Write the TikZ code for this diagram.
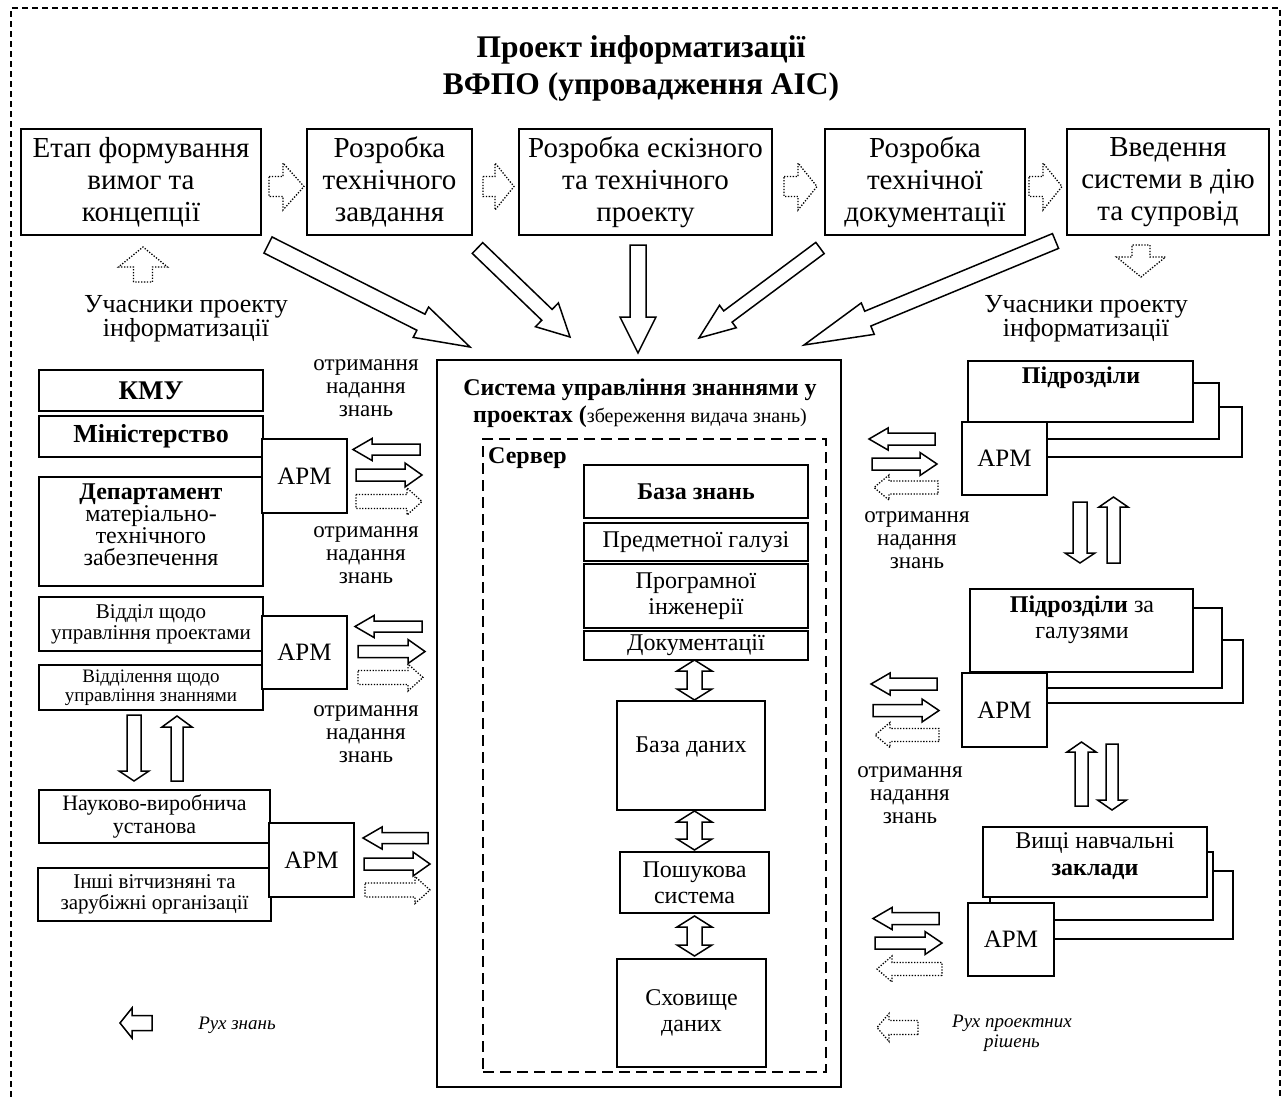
\documentclass[tikz,border=0pt]{standalone}
\usepackage{fontspec}
\setmainfont{Liberation Serif}
\usetikzlibrary{calc}

% single-headed block arrow from #2 to #3: shaft half-width #4, head half-width #5, head length #6
\newcommand{\blkarrow}[6]{%
  \coordinate (ba-h) at ($(#3)!#6!(#2)$);
  \draw[#1] ($(#2)!#4!90:(#3)$) -- ($(ba-h)!#4!90:(#3)$) -- ($(ba-h)!#5!90:(#3)$) -- (#3)
    -- ($(ba-h)!#5!-90:(#3)$) -- ($(ba-h)!#4!-90:(#3)$) -- ($(#2)!#4!-90:(#3)$) -- cycle;}
% double-headed block arrow between #2 and #3
\newcommand{\dblarrow}[6]{%
  \coordinate (da-a) at ($(#2)!#6!(#3)$);
  \coordinate (da-b) at ($(#3)!#6!(#2)$);
  \draw[#1] (#2) -- ($(da-a)!#5!90:(#3)$) -- ($(da-a)!#4!90:(#3)$) -- ($(da-b)!#4!90:(#3)$)
    -- ($(da-b)!#5!90:(#3)$) -- (#3) -- ($(da-b)!#5!-90:(#3)$) -- ($(da-b)!#4!-90:(#3)$)
    -- ($(da-a)!#4!-90:(#3)$) -- ($(da-a)!#5!-90:(#3)$) -- cycle;}

\begin{document}
\begin{tikzpicture}[x=1pt,y=-1pt,
  box/.style={draw, line width=1.4pt, fill=white, inner sep=0pt, align=center},
  heavy/.style={box, line width=2.5pt},
  midbox/.style={box, line width=2pt},
  lite/.style={box, line width=1.1pt},
  txt/.style={inner sep=0pt, align=center},
  hollow/.style={draw, line width=1.5pt, fill=white, line join=miter},
  dots/.style={draw, line width=1.3pt, dash pattern=on 1.3pt off 1.6pt, fill=white},
  border/.style={draw, line width=1.5pt, dash pattern=on 6pt off 4pt},
  srv/.style={draw, line width=1.6pt, dash pattern=on 11pt off 6pt},
  backbox/.style={draw, line width=1.4pt, fill=white},
  fbig/.style={font={\fontsize{29}{32}\selectfont}},
  fpart/.style={font={\fontsize{26}{24}\selectfont}},
  fnote/.style={font={\fontsize{23}{23}\selectfont}},
  fsrv/.style={font={\fontsize{24}{26}\selectfont}},
  flegend/.style={font={\itshape\fontsize{19}{20}\selectfont}},
]
\useasboundingbox (0,0) rectangle (1285,1097);

% outer dashed frame (open at the bottom)
\draw[border] (11,1097) -- (11,8) -- (1280,8) -- (1280,1097);

% title
\node[txt, font={\bfseries\fontsize{31.5}{37}\selectfont}] (title) at (641,68)
  {Проект інформатизації\\ВФПО (упровадження АІС)};

% project stages
\node[box, fbig, minimum width=240pt, minimum height=106pt] (s1) at (141,182) {Етап формування\\вимог та\\концепції};
\node[box, fbig, minimum width=165pt, minimum height=106pt] (s2) at (389.5,182) {Розробка\\технічного\\завдання};
\node[box, fbig, minimum width=253pt, minimum height=106pt] (s3) at (645.5,182) {Розробка ескізного\\та технічного\\проекту};
\node[box, fbig, minimum width=200pt, minimum height=106pt] (s4) at (925,182) {Розробка\\технічної\\документації};
\node[box, fbig, minimum width=202pt, minimum height=106pt] (s5) at (1168,182) {Введення\\системи в дію\\та супровід};

% dotted arrows between stages
\coordinate (q1a) at (269,186.5);  \coordinate (q1b) at (304,186.5);
\coordinate (q2a) at (483,186.5);  \coordinate (q2b) at (514,186.5);
\coordinate (q3a) at (784,186.5);  \coordinate (q3b) at (817,186.5);
\coordinate (q4a) at (1029,186.5); \coordinate (q4b) at (1062,186.5);
\blkarrow{dots}{q1a}{q1b}{10pt}{23.5pt}{21pt}
\blkarrow{dots}{q2a}{q2b}{10pt}{23.5pt}{19pt}
\blkarrow{dots}{q3a}{q3b}{10pt}{23.5pt}{19pt}
\blkarrow{dots}{q4a}{q4b}{10pt}{23.5pt}{19pt}

% participants
\coordinate (u1a) at (143,282); \coordinate (u1b) at (143,247);
\blkarrow{dots}{u1a}{u1b}{9.5pt}{24.5pt}{20pt}
\coordinate (u2a) at (1141,245); \coordinate (u2b) at (1141,277);
\blkarrow{dots}{u2a}{u2b}{9pt}{24.5pt}{20pt}
\node[txt, fpart] (partL) at (186,319) {Учасники проекту\\інформатизації};
\node[txt, fpart] (partR) at (1086,319) {Учасники проекту\\інформатизації};

% knowledge management system
\node[midbox, fill=none, minimum width=404pt, minimum height=727pt] (kms) at (639,723.5) {};
\node[txt, font={\bfseries\fontsize{24}{27}\selectfont}] (kmsT) at (640,403.5)
  {Система управління знаннями у\\проектах ({\mdseries\fontsize{20}{27}\selectfont збереження видача знань)}};
\node[srv, inner sep=0pt, minimum width=343pt, minimum height=633pt] (srvbox) at (654.5,755.5) {};
\node[txt, anchor=west, font={\bfseries\fontsize{24}{26}\selectfont}] (srvT) at (488,458) {Сервер};

\node[heavy, fsrv, minimum width=224pt, minimum height=53pt] (kb) at (696,491.5) {\bfseries База знань};
\node[heavy, fsrv, minimum width=224pt, minimum height=38pt] (kb1) at (696,542) {Предметної галузі};
\node[heavy, fsrv, minimum width=224pt, minimum height=64pt] (kb2) at (696,596) {Програмної\\інженерії};
\node[heavy, fsrv, minimum width=224pt, minimum height=29pt] (kb3) at (696,645.5) {Документації};
\node[heavy, minimum width=148pt, minimum height=109pt] (db) at (691,755.5) {};
\node[txt, fsrv] (dbT) at (691,747) {База даних};
\node[heavy, fsrv, minimum width=149pt, minimum height=61pt] (se) at (694.5,882.5) {Пошукова\\система};
\node[heavy, fsrv, minimum width=149pt, minimum height=108pt] (dw) at (691.5,1013) {Сховище\\даних};

\coordinate (v1a) at (694.5,660); \coordinate (v1b) at (694.5,700);
\coordinate (v2a) at (694.5,811); \coordinate (v2b) at (694.5,850);
\coordinate (v3a) at (694.5,916); \coordinate (v3b) at (694.5,956);
\dblarrow{hollow}{v1a}{v1b}{7.5pt}{17.5pt}{11pt}
\dblarrow{hollow}{v2a}{v2b}{7.5pt}{17.5pt}{11pt}
\dblarrow{hollow}{v3a}{v3b}{7.5pt}{17.5pt}{11pt}

% stages feed the system
\coordinate (fa1) at (268,245);    \coordinate (fa2) at (470,347);
\coordinate (fb1) at (477.5,248);  \coordinate (fb2) at (570,337);
\coordinate (fc1) at (638,245);    \coordinate (fc2) at (638,353);
\coordinate (fd1) at (820,248);    \coordinate (fd2) at (699,338);
\coordinate (fe1) at (1055.5,241); \coordinate (fe2) at (804,345);
\blkarrow{hollow}{fa1}{fa2}{9pt}{17pt}{55pt}
\blkarrow{hollow}{fb1}{fb2}{7.5pt}{16.5pt}{32pt}
\blkarrow{hollow}{fc1}{fc2}{8pt}{18pt}{36pt}
\blkarrow{hollow}{fd1}{fd2}{7pt}{14pt}{36pt}
\blkarrow{hollow}{fe1}{fe2}{8pt}{17pt}{69pt}

% left column: state bodies
\node[heavy, font={\bfseries\fontsize{27}{30}\selectfont}, minimum width=224pt, minimum height=41pt] (kmu) at (151,390.5) {КМУ};
\node[heavy, font={\bfseries\fontsize{26}{30}\selectfont}, minimum width=224pt, minimum height=41pt] (min) at (151,436.5) {Міністерство};
\node[midbox, minimum width=224pt, minimum height=109pt] (dep) at (151,531.5) {};
\node[txt, font={\fontsize{24}{22}\selectfont}] (depT) at (151,525)
  {\textbf{Департамент}\\матеріально-\\технічного\\забезпечення};
\node[heavy, font={\fontsize{25}{28}\selectfont}, minimum width=85pt, minimum height=74pt] (arm1) at (304.5,476) {АРМ};

\node[lite, font={\fontsize{21}{21}\selectfont}, line width=1.3pt, minimum width=224pt, minimum height=54pt] (dpm) at (151,624) {Відділ щодо\\управління проектами};
\node[lite, font={\fontsize{19}{19}\selectfont}, minimum width=224pt, minimum height=45pt] (dkm) at (151,687.5) {Відділення щодо\\управління знаннями};
\node[heavy, font={\fontsize{25}{28}\selectfont}, minimum width=85pt, minimum height=73pt] (arm2) at (304.5,652.5) {АРМ};

\coordinate (l1a) at (134,715); \coordinate (l1b) at (134,781);
\coordinate (l2a) at (177,781); \coordinate (l2b) at (177,716);
\blkarrow{hollow}{l1a}{l1b}{7pt}{15pt}{10pt}
\blkarrow{hollow}{l2a}{l2b}{6pt}{15pt}{11pt}

\node[midbox, font={\fontsize{22}{23}\selectfont}, minimum width=231pt, minimum height=53pt] (nvu) at (154.5,816.5) {Науково-виробнича\\установа};
\node[midbox, font={\fontsize{21}{21}\selectfont}, minimum width=233pt, minimum height=53pt] (oth) at (154.5,894.5) {Інші вітчизняні та\\зарубіжні організації};
\node[heavy, font={\fontsize{25}{28}\selectfont}, minimum width=85pt, minimum height=74pt] (arm3) at (311.5,860) {АРМ};

% left exchange arrows
\coordinate (a1l1) at (420,449.5); \coordinate (a1l2) at (353,449.5);
\coordinate (a1r1) at (356,475);   \coordinate (a1r2) at (422,475);
\coordinate (a1d1) at (356,501.5); \coordinate (a1d2) at (422,501.5);
\blkarrow{hollow}{a1l1}{a1l2}{5.5pt}{11pt}{19pt}
\blkarrow{hollow}{a1r1}{a1r2}{6pt}{12pt}{17pt}
\blkarrow{dots}{a1d1}{a1d2}{7pt}{13.5pt}{15pt}

\coordinate (a2l1) at (422,626.5); \coordinate (a2l2) at (355,626.5);
\coordinate (a2r1) at (358,651.5); \coordinate (a2r2) at (425,651.5);
\coordinate (a2d1) at (358,677.5); \coordinate (a2d2) at (423,677.5);
\blkarrow{hollow}{a2l1}{a2l2}{5.5pt}{11pt}{19pt}
\blkarrow{hollow}{a2r1}{a2r2}{6pt}{12pt}{17pt}
\blkarrow{dots}{a2d1}{a2d2}{7pt}{13.5pt}{15pt}

\coordinate (a3l1) at (428,838); \coordinate (a3l2) at (363,838);
\coordinate (a3r1) at (364,864); \coordinate (a3r2) at (430,864);
\coordinate (a3d1) at (365,890); \coordinate (a3d2) at (430,890);
\blkarrow{hollow}{a3l1}{a3l2}{5.5pt}{11pt}{19pt}
\blkarrow{hollow}{a3r1}{a3r2}{6pt}{12pt}{17pt}
\blkarrow{dots}{a3d1}{a3d2}{7pt}{13.5pt}{15pt}

\node[txt, fnote] (n1) at (366,388.5) {отримання\\надання\\знань};
\node[txt, fnote] (n2) at (366,555.5) {отримання\\надання\\знань};
\node[txt, fnote] (n3) at (366,734.5) {отримання\\надання\\знань};

% right column: units (stacked cards)
\draw[backbox] (1010,407) rectangle (1242,457);
\draw[backbox] (990,383) rectangle (1219,439);
\node[box, line width=1.6pt, minimum width=225pt, minimum height=61pt] (pd) at (1080.5,391.5) {};
\node[txt, font={\bfseries\fontsize{24}{26}\selectfont}] (pdT) at (1081,378) {Підрозділи};
\node[heavy, font={\fontsize{25}{28}\selectfont}, minimum width=85pt, minimum height=73pt] (arm4) at (1004.5,458.5) {АРМ};

\draw[backbox] (1010,640) rectangle (1243,703);
\draw[backbox] (1000,608) rectangle (1222,688);
\node[box, line width=1.6pt, minimum width=223pt, minimum height=83pt] (pg) at (1081.5,630.5) {};
\node[txt, font={\fontsize{24}{26}\selectfont}] (pgT) at (1082,620) {\textbf{Підрозділи} за\\галузями};
\node[heavy, font={\fontsize{25}{28}\selectfont}, minimum width=85pt, minimum height=74pt] (arm5) at (1004.5,710) {АРМ};

\draw[backbox] (990,871) rectangle (1233,939);
\draw[backbox] (990,852) rectangle (1213,920);
\node[box, line width=1.6pt, minimum width=224pt, minimum height=70pt] (vnz) at (1095,862) {};
\node[txt, font={\fontsize{24}{27}\selectfont}] (vnzT) at (1095,856.5) {Вищі навчальні\\\textbf{заклади}};
\node[heavy, font={\fontsize{25}{28}\selectfont}, minimum width=86pt, minimum height=73pt] (arm6) at (1011,939.5) {АРМ};

\coordinate (r1a) at (1080,502);   \coordinate (r1b) at (1080,563);
\coordinate (r2a) at (1113.5,563); \coordinate (r2b) at (1113.5,497);
\blkarrow{hollow}{r1a}{r1b}{7pt}{15pt}{10pt}
\blkarrow{hollow}{r2a}{r2b}{6.5pt}{14.5pt}{10pt}
\coordinate (r3a) at (1081.5,806); \coordinate (r3b) at (1081.5,742);
\coordinate (r4a) at (1112,744);   \coordinate (r4b) at (1112,810);
\blkarrow{hollow}{r3a}{r3b}{6.5pt}{14.5pt}{10pt}
\blkarrow{hollow}{r4a}{r4b}{6pt}{14.5pt}{10pt}

% right exchange arrows
\coordinate (a4l1) at (935,439);   \coordinate (a4l2) at (869,439);
\coordinate (a4r1) at (872,464);   \coordinate (a4r2) at (937,464);
\coordinate (a4d1) at (938,487.5); \coordinate (a4d2) at (874,487.5);
\blkarrow{hollow}{a4l1}{a4l2}{6pt}{11pt}{19pt}
\blkarrow{hollow}{a4r1}{a4r2}{6pt}{11.5pt}{17pt}
\blkarrow{dots}{a4d1}{a4d2}{6.5pt}{12.5pt}{15pt}

\coordinate (a5l1) at (937,684);   \coordinate (a5l2) at (871,684);
\coordinate (a5r1) at (873,710.5); \coordinate (a5r2) at (939,710.5);
\coordinate (a5d1) at (939,735);   \coordinate (a5d2) at (875,735);
\blkarrow{hollow}{a5l1}{a5l2}{6pt}{11pt}{19pt}
\blkarrow{hollow}{a5r1}{a5r2}{6pt}{11.5pt}{17pt}
\blkarrow{dots}{a5d1}{a5d2}{6.5pt}{12.5pt}{15pt}

\coordinate (a6l1) at (939,918.5); \coordinate (a6l2) at (873,918.5);
\coordinate (a6r1) at (875,943);   \coordinate (a6r2) at (942,943);
\coordinate (a6d1) at (942,969);   \coordinate (a6d2) at (877,969);
\blkarrow{hollow}{a6l1}{a6l2}{6pt}{11pt}{19pt}
\blkarrow{hollow}{a6r1}{a6r2}{6pt}{11.5pt}{17pt}
\blkarrow{dots}{a6d1}{a6d2}{6.5pt}{13pt}{15pt}

\node[txt, fnote] (n4) at (917,540) {отримання\\надання\\знань};
\node[txt, fnote] (n5) at (910,795) {отримання\\надання\\знань};

% legend
\coordinate (k1a) at (152,1023); \coordinate (k1b) at (120,1023);
\blkarrow{hollow}{k1a}{k1b}{7.5pt}{15pt}{12pt}
\node[txt, flegend] (k1T) at (237,1025) {Рух знань};
\coordinate (k2a) at (918,1027.5); \coordinate (k2b) at (877,1027.5);
\blkarrow{dots}{k2a}{k2b}{7pt}{14pt}{12pt}
\node[txt, flegend] (k2T) at (1012,1033) {Рух проектних\\рішень};
\end{tikzpicture}
\end{document}
